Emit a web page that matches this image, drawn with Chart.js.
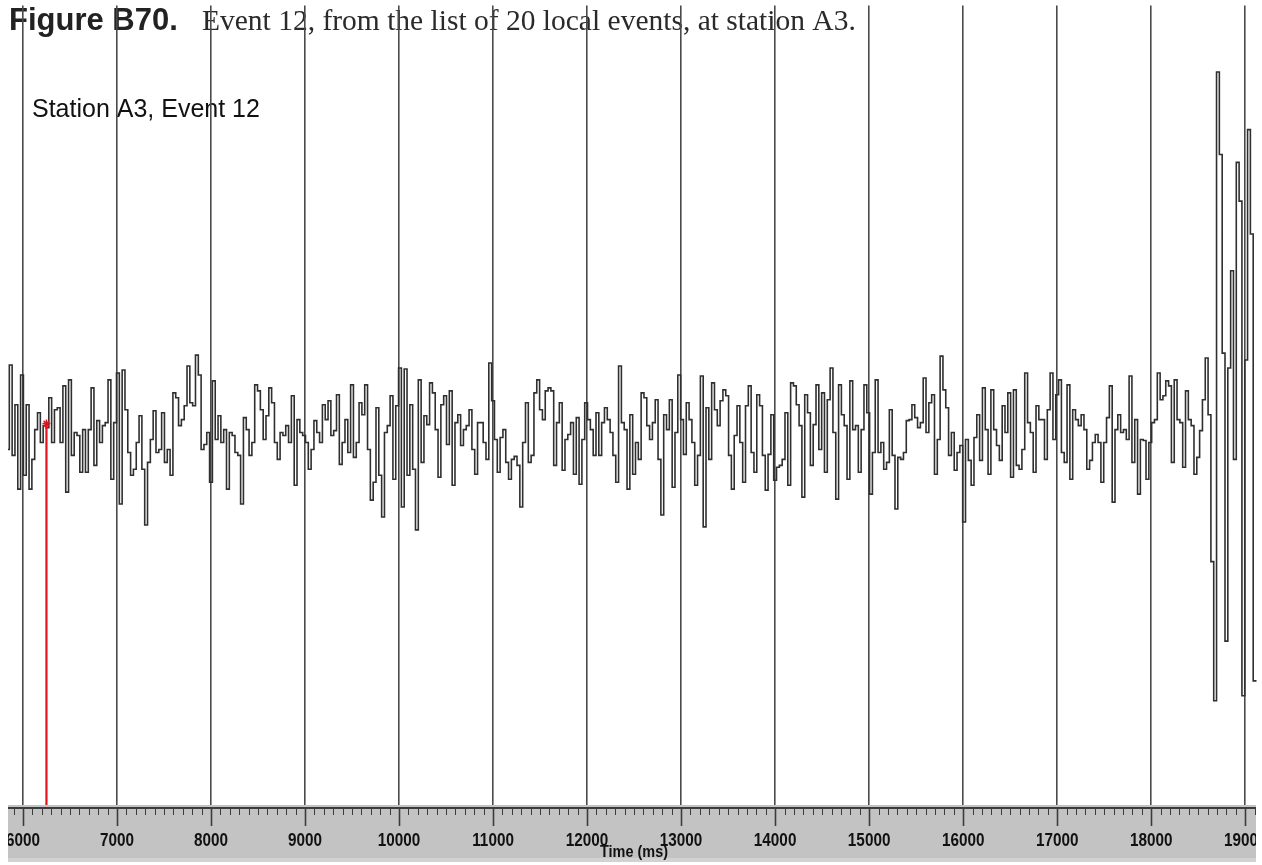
<!DOCTYPE html>
<html>
<head>
<meta charset="utf-8">
<script src="https://cdn.jsdelivr.net/npm/chart.js@4.4.1/dist/chart.umd.min.js"></script>
<style>
  html, body { margin: 0; padding: 0; background: #ffffff; }
  #wrap { width: 1262px; height: 865px; position: relative; }
</style>
</head>
<body>
<div id="wrap"><canvas id="c" width="1262" height="865"></canvas></div>
<script>
// ---- texts ----
const titleBold = "Figure B70.";
const titleRest = "Event 12, from the list of 20 local events, at station A3.";
const subtitle = "Station A3, Event 12";
const axisTitle = "Time (ms)";

// ---- sampling of the trace (ms) ----
const startTime = 5840;
const sampleStep = 30;

// ---- trace amplitude (arbitrary units, 0 = rest level) ----
const amplitude = [
  -15, 70, -21, 30, -55, 60, -41, 30, -55, -25,
  5, 22, -8, 9, 7, 37, -8, 25, 27, -8,
  49, -58, 55, -21, 2, -1, -38, 5, -38, 5,
  47, -31, 14, -8, 9, 12, 55, -45, 12, 62,
  -70, 65, 25, -18, -41, -35, -8, 19, -35, -91,
  -28, -5, 24, -18, -15, 22, -28, -15, -41, 42,
  37, 9, 15, 29, 69, 32, 29, 80, 60, -15,
  -10, 2, -48, 54, -5, 19, -8, 5, -55, 2,
  -1, -18, -21, -70, 17, 5, -21, -8, 50, 44,
  25, -5, 19, 47, 32, -8, -25, 2, -1, 9,
  -8, 39, -51, 15, 2, -1, -8, -35, -15, 14,
  2, -8, 30, 15, 34, -1, 4, 40, -30, -8,
  15, -18, 50, -23, -8, 32, 20, 50, -15, -66,
  -48, 27, -41, -83, 2, 9, 39, -45, 29, 67,
  -73, 66, -41, 30, -35, -96, 55, -28, 19, 10,
  52, 42, 5, -43, 30, 39, -10, 44, -51, 12,
  20, -11, 5, 9, 25, -15, -40, 12, 12, -8,
  -25, 72, 34, -5, -38, -3, 5, -28, -45, -25,
  -22, -31, -73, -8, 32, -28, -21, 42, 55, 25,
  15, 44, 47, 44, -31, 12, 32, -36, -5, 0,
  12, -40, 17, -50, -5, 32, 15, 5, -21, 22,
  -21, 12, 27, 15, 2, -21, -48, 69, 12, 5,
  -55, 20, -40, -8, -25, 42, 37, 9, -5, 12,
  35, -25, -81, 20, 5, 35, -53, 2, 60, 15,
  -20, 32, 15, -8, -51, -21, 59, -93, 27, -25,
  52, 25, 9, 34, 45, 39, -21, -55, -1, 29,
  -8, -48, 29, 49, -18, -38, 40, 29, -21, -56,
  -20, 20, -46, -33, -31, -25, 22, -51, 52, 49,
  30, 9, -63, 40, 22, -31, 10, 50, -15, 42,
  -38, 35, 67, 2, -65, 50, 20, 9, -45, 54,
  5, 9, -38, 5, 50, 22, -60, -18, 55, -18,
  -8, -35, -28, 25, -21, -75, -23, -25, -18, 14,
  15, 30, 17, 7, 12, 57, 2, 32, 40, -40,
  -5, 79, 45, 27, -21, 2, -36, -18, -11, -88,
  -5, -26, -51, -3, 20, -26, 47, 5, -40, 45,
  5, -11, -26, 29, 2, 42, -43, 45, -31, -35,
  -15, 62, 12, 2, -38, 29, 15, 15, -25, 25,
  62, -5, 40, 55, -18, -28, 50, -45, 25, 15,
  9, 20, 5, -35, -26, -8, 0, -8, -48, -8,
  17, 49, -68, 5, 20, 2, 5, -5, 59, -28,
  15, -60, -5, -6, -45, -8, 12, 15, 62, 35,
  39, 54, 49, -28, 55, 15, 12, -33, 44, 15,
  9, -40, -23, 4, 35, 77, 20, -128, -268, 365,
  282, 82, -208, 67, 165, -25, 274, 235, -263, 75,
  307, 202, -248, -248
];

// ---- pick marker (red) ----
const pickTime = [6250, 6250];
const pickValue = [11, -373];

// ---- axis ticks ----
const tickValues = [6000, 7000, 8000, 9000, 10000, 11000, 12000, 13000, 14000, 15000, 16000, 17000, 18000, 19000];
const tickLabels = ["6000", "7000", "8000", "9000", "10000", "11000", "12000", "13000", "14000", "15000", "16000", "17000", "18000", "19000"];
const minorStep = 100;

const tracePoints = amplitude.map((v, i) => ({ x: startTime + i * sampleStep, y: v }));
const pickPoints = pickTime.map((t, i) => ({ x: t, y: pickValue[i] }));

const textPlugin = {
  id: 'texts',
  beforeDraw(chart) {
    const ctx = chart.ctx;
    ctx.save();
    ctx.textBaseline = 'alphabetic';
    ctx.textAlign = 'left';
    ctx.fillStyle = '#222';
    ctx.font = 'bold 31px "Liberation Sans", Arial, Helvetica, sans-serif';
    ctx.fillText(titleBold, 9, 30);
    ctx.fillStyle = '#2a2a2a';
    ctx.font = '29.5px "Liberation Serif", "Times New Roman", serif';
    ctx.fillText(titleRest, 202, 30);
    ctx.fillStyle = '#111';
    ctx.font = '25px "Liberation Sans", Arial, Helvetica, sans-serif';
    ctx.fillText(subtitle, 32, 117);
    ctx.restore();
  }
};

const axisPlugin = {
  id: 'timeAxis',
  afterDraw(chart) {
    const ctx = chart.ctx;
    const xs = chart.scales.x;
    const bandL = 8, bandR = 1256, bandT = 805, bandB = 862;
    ctx.save();
    ctx.fillStyle = '#c3c3c3';
    ctx.fillRect(bandL, bandT, bandR - bandL, bandB - bandT);
    ctx.fillStyle = '#d2d2d2';
    ctx.fillRect(bandL, bandB - 4, bandR - bandL, 4);
    ctx.beginPath();
    ctx.rect(bandL, bandT, bandR - bandL, bandB - bandT);
    ctx.clip();
    ctx.fillStyle = '#3c3c3c';
    ctx.fillRect(bandL, 807, bandR - bandL, 2);
    ctx.strokeStyle = '#3c3c3c';
    const first = Math.ceil(xs.min / minorStep) * minorStep;
    for (let t = first; t <= xs.max; t += minorStep) {
      const px = Math.round(xs.getPixelForValue(t)) + 0.5;
      const major = t % 1000 === 0;
      ctx.lineWidth = major ? 1.6 : 1;
      ctx.beginPath();
      ctx.moveTo(px, 808);
      ctx.lineTo(px, major ? 826 : 815);
      ctx.stroke();
    }
    ctx.fillStyle = '#111';
    ctx.textAlign = 'center';
    ctx.textBaseline = 'alphabetic';
    ctx.font = 'bold 18px "Liberation Sans", Arial, sans-serif';
    tickValues.forEach((v, i) => {
      const px = xs.getPixelForValue(v);
      ctx.save();
      ctx.translate(px, 846);
      ctx.scale(0.85, 1);
      ctx.fillText(tickLabels[i], 0, 0);
      ctx.restore();
    });
    ctx.font = 'bold 17px "Liberation Sans", Arial, sans-serif';
    ctx.save();
    ctx.translate(634, 857);
    ctx.scale(0.85, 1);
    ctx.fillText(axisTitle, 0, 0);
    ctx.restore();
    ctx.restore();
  }
};

new Chart(document.getElementById('c'), {
  type: 'line',
  data: {
    datasets: [
      {
        data: tracePoints,
        borderColor: '#2f2f2f',
        borderWidth: 1.6,
        pointRadius: 0,
        stepped: 'middle',
        fill: false,
        order: 2
      },
      {
        data: pickPoints,
        borderColor: '#e0141e',
        borderWidth: 2.2,
        pointRadius: [4, 0],
        pointStyle: 'star',
        pointBorderColor: '#e0141e',
        pointBorderWidth: 1.5,
        fill: false,
        order: 1
      }
    ]
  },
  options: {
    responsive: false,
    animation: false,
    events: [],
    layout: { padding: { left: 8, right: 2, top: 0, bottom: 0 } },
    plugins: { legend: { display: false }, tooltip: { enabled: false }, title: { display: false } },
    scales: {
      x: {
        type: 'linear',
        min: 5841,
        max: 19120,
        afterBuildTicks: (scale) => { scale.ticks = tickValues.map(v => ({ value: v })); },
        afterFit: (scale) => { scale.height = 60; },
        ticks: { display: false },
        grid: { color: '#4a4a4a', lineWidth: 1.6, drawTicks: false, drawOnChartArea: true },
        border: { display: false }
      },
      y: {
        display: false,
        min: -373,
        max: 432
      }
    }
  },
  plugins: [textPlugin, axisPlugin]
});
</script>
</body>
</html>
